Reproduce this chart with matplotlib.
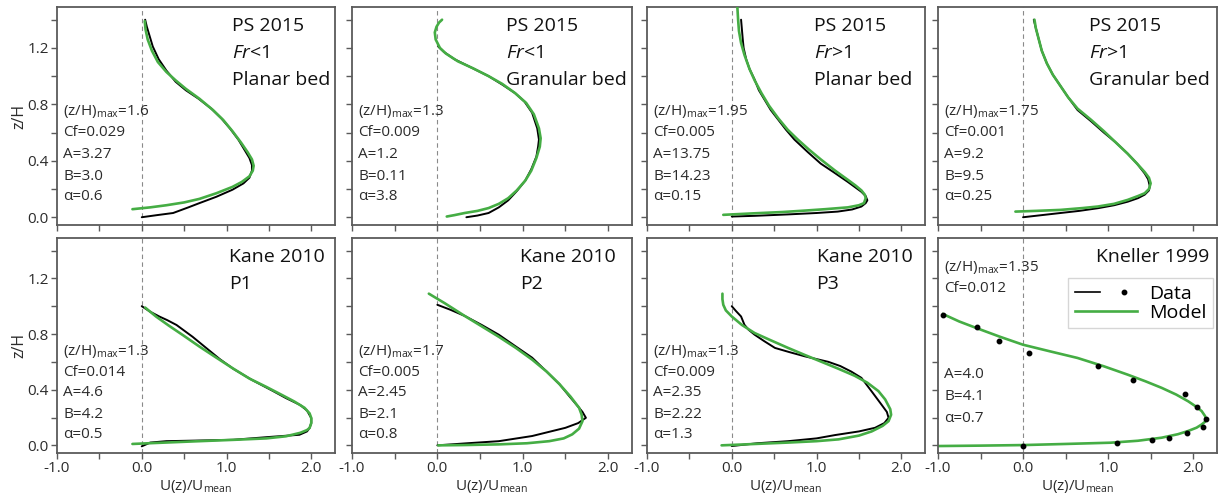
import matplotlib
matplotlib.use("Agg")
import matplotlib.pyplot as plt
from matplotlib.lines import Line2D
from matplotlib.legend_handler import HandlerTuple

plt.rcParams["font.family"] = ["Open Sans", "DejaVu Sans"]
plt.rcParams["mathtext.fontset"] = "custom"
plt.rcParams["mathtext.rm"] = "Open Sans"
plt.rcParams["mathtext.it"] = "Open Sans:italic"

# ---------------- velocity profiles: U(z)/Umean vs z/H ----------------
# PS 2015, Fr<1, planar bed
p1_data_u = [0.0, 0.18, 0.37, 0.55, 0.68, 0.88, 1.07, 1.20, 1.27, 1.30, 1.30, 1.27, 1.22, 1.14, 1.04, 0.94, 0.82, 0.67, 0.52, 0.40, 0.29, 0.20, 0.13, 0.09, 0.06, 0.04]
p1_data_z = [0.0, 0.015, 0.03, 0.07, 0.10, 0.145, 0.195, 0.24, 0.28, 0.33, 0.37, 0.42, 0.47, 0.55, 0.63, 0.70, 0.77, 0.84, 0.90, 0.96, 1.04, 1.12, 1.21, 1.29, 1.35, 1.40]
p1_model_u = [-0.11, 0.10, 0.29, 0.50, 0.68, 0.88, 1.07, 1.18, 1.27, 1.31, 1.32, 1.30, 1.25, 1.17, 1.07, 0.96, 0.84, 0.68, 0.52, 0.40, 0.29, 0.19, 0.12, 0.07, 0.045, 0.035]
p1_model_z = [0.057, 0.07, 0.085, 0.105, 0.13, 0.17, 0.215, 0.25, 0.29, 0.33, 0.365, 0.41, 0.46, 0.53, 0.61, 0.69, 0.76, 0.84, 0.91, 0.97, 1.03, 1.10, 1.18, 1.26, 1.33, 1.39]

# PS 2015, Fr<1, granular bed
p2_data_u = [0.34, 0.47, 0.60, 0.72, 0.83, 0.93, 1.03, 1.10, 1.16, 1.18, 1.19, 1.17, 1.11, 1.02, 0.91, 0.76, 0.60, 0.40, 0.20, 0.08, 0.01]
p2_data_z = [0.0, 0.012, 0.03, 0.07, 0.12, 0.185, 0.26, 0.34, 0.43, 0.50, 0.55, 0.63, 0.74, 0.82, 0.88, 0.94, 1.0, 1.06, 1.12, 1.17, 1.21]
p2_model_u = [0.11, 0.20, 0.32, 0.47, 0.60, 0.72, 0.83, 0.93, 1.03, 1.10, 1.16, 1.20, 1.21, 1.19, 1.13, 1.04, 0.91, 0.76, 0.60, 0.42, 0.24, 0.10, 0.03, -0.02, -0.03, -0.01, 0.02, 0.055]
p2_model_z = [0.005, 0.015, 0.03, 0.045, 0.065, 0.095, 0.135, 0.19, 0.26, 0.33, 0.42, 0.50, 0.56, 0.63, 0.73, 0.81, 0.88, 0.945, 1.0, 1.055, 1.105, 1.16, 1.20, 1.26, 1.31, 1.35, 1.38, 1.40]

# PS 2015, Fr>1, planar bed
p3_data_u = [0.0, 0.27, 0.66, 1.00, 1.25, 1.42, 1.53, 1.58, 1.60, 1.58, 1.53, 1.45, 1.37, 1.20, 1.05, 0.90, 0.74, 0.64, 0.55, 0.46, 0.39, 0.32, 0.27, 0.21, 0.17, 0.14, 0.13, 0.12, 0.11]
p3_data_z = [0.005, 0.01, 0.02, 0.03, 0.04, 0.055, 0.076, 0.10, 0.12, 0.15, 0.18, 0.215, 0.25, 0.32, 0.38, 0.46, 0.55, 0.62, 0.69, 0.76, 0.83, 0.90, 0.975, 1.05, 1.12, 1.20, 1.26, 1.33, 1.40]
p3_model_u = [-0.10, 0.27, 0.60, 0.86, 1.10, 1.37, 1.50, 1.56, 1.58, 1.57, 1.53, 1.46, 1.37, 1.22, 1.05, 0.91, 0.78, 0.66, 0.55, 0.44, 0.35, 0.27, 0.21, 0.15, 0.11, 0.085, 0.075, 0.065]
p3_model_z = [0.017, 0.028, 0.037, 0.047, 0.057, 0.07, 0.085, 0.10, 0.135, 0.16, 0.19, 0.225, 0.265, 0.33, 0.41, 0.48, 0.55, 0.62, 0.70, 0.79, 0.88, 0.97, 1.05, 1.15, 1.235, 1.32, 1.40, 1.50]

# PS 2015, Fr>1, granular bed
p4_data_u = [0.0, 0.22, 0.44, 0.66, 0.88, 1.07, 1.23, 1.35, 1.43, 1.48, 1.49, 1.47, 1.43, 1.34, 1.23, 1.09, 0.95, 0.80, 0.64, 0.53, 0.44, 0.35, 0.28, 0.22, 0.185, 0.146, 0.126]
p4_data_z = [0.0, 0.015, 0.03, 0.045, 0.064, 0.085, 0.11, 0.135, 0.16, 0.19, 0.22, 0.27, 0.31, 0.38, 0.45, 0.53, 0.60, 0.68, 0.76, 0.85, 0.93, 1.01, 1.09, 1.18, 1.26, 1.35, 1.40]
p4_model_u = [-0.09, 0.15, 0.44, 0.70, 0.88, 1.07, 1.23, 1.35, 1.43, 1.48, 1.50, 1.48, 1.43, 1.34, 1.23, 1.09, 0.95, 0.80, 0.64, 0.53, 0.44, 0.35, 0.28, 0.22, 0.185, 0.15, 0.134]
p4_model_z = [0.04, 0.045, 0.052, 0.065, 0.076, 0.095, 0.123, 0.15, 0.17, 0.20, 0.24, 0.28, 0.32, 0.38, 0.45, 0.53, 0.61, 0.69, 0.77, 0.85, 0.93, 1.01, 1.09, 1.18, 1.26, 1.34, 1.40]

# Kane 2010, P1
p5_data_u = [0.0, 0.10, 0.29, 0.70, 1.08, 1.50, 1.86, 1.95, 1.98, 2.0, 2.0, 1.95, 1.87, 1.70, 1.55, 1.30, 1.08, 0.92, 0.76, 0.60, 0.41, 0.30, 0.21, 0.10, 0.0]
p5_data_z = [-0.007, 0.02, 0.03, 0.035, 0.04, 0.06, 0.076, 0.10, 0.125, 0.16, 0.196, 0.25, 0.29, 0.34, 0.39, 0.47, 0.55, 0.62, 0.70, 0.78, 0.865, 0.90, 0.925, 0.96, 1.0]
p5_model_u = [-0.11, 0.20, 0.68, 1.10, 1.47, 1.70, 1.87, 1.95, 1.98, 2.00, 2.00, 1.98, 1.92, 1.80, 1.66, 1.47, 1.27, 1.07, 0.88, 0.68, 0.49, 0.32, 0.17, 0.04]
p5_model_z = [0.01, 0.018, 0.03, 0.04, 0.05, 0.065, 0.09, 0.11, 0.125, 0.16, 0.196, 0.23, 0.27, 0.315, 0.36, 0.42, 0.48, 0.555, 0.63, 0.71, 0.79, 0.86, 0.925, 0.99]

# Kane 2010, P2
p6_data_u = [0.0, 0.35, 0.72, 1.11, 1.50, 1.65, 1.74, 1.70, 1.66, 1.55, 1.43, 1.28, 1.11, 0.92, 0.72, 0.52, 0.32, 0.15, 0.0]
p6_data_z = [0.0, 0.015, 0.03, 0.067, 0.126, 0.16, 0.198, 0.24, 0.27, 0.35, 0.44, 0.53, 0.63, 0.71, 0.795, 0.865, 0.93, 0.975, 1.01]
p6_model_u = [0.01, 0.30, 0.72, 1.05, 1.31, 1.48, 1.58, 1.66, 1.70, 1.69, 1.66, 1.56, 1.43, 1.28, 1.11, 0.92, 0.72, 0.52, 0.32, 0.09, -0.10]
p6_model_z = [0.0, 0.002, 0.007, 0.015, 0.03, 0.05, 0.079, 0.12, 0.174, 0.22, 0.27, 0.35, 0.44, 0.53, 0.616, 0.70, 0.78, 0.855, 0.93, 1.02, 1.09]

# Kane 2010, P3
p7_data_u = [0.0, 0.30, 0.665, 1.00, 1.22, 1.50, 1.69, 1.80, 1.85, 1.83, 1.77, 1.66, 1.53, 1.41, 1.28, 1.14, 1.00, 0.86, 0.68, 0.51, 0.38, 0.27, 0.20, 0.15, 0.11, 0.05, 0.0]
p7_data_z = [-0.005, 0.015, 0.03, 0.05, 0.074, 0.10, 0.126, 0.16, 0.198, 0.24, 0.29, 0.38, 0.485, 0.53, 0.57, 0.60, 0.62, 0.64, 0.67, 0.70, 0.75, 0.795, 0.83, 0.866, 0.926, 0.965, 1.0]
p7_model_u = [-0.12, 0.20, 0.665, 1.00, 1.26, 1.50, 1.65, 1.78, 1.85, 1.88, 1.87, 1.81, 1.73, 1.60, 1.45, 1.26, 1.06, 0.86, 0.665, 0.46, 0.27, 0.12, 0.0, -0.07, -0.10, -0.11, -0.11]
p7_model_z = [0.0, 0.008, 0.02, 0.03, 0.043, 0.07, 0.10, 0.14, 0.174, 0.22, 0.26, 0.33, 0.39, 0.45, 0.50, 0.55, 0.60, 0.65, 0.70, 0.755, 0.807, 0.865, 0.926, 0.97, 1.01, 1.05, 1.09]

# Kneller 1999 (point measurements)
p8_data_u = [-0.94, -0.544, -0.288, 0.067, 0.876, 1.29, 1.90, 2.05, 2.15, 2.11, 1.93, 1.71, 1.51, 1.10, 0.0]
p8_data_z = [0.938, 0.847, 0.752, 0.663, 0.568, 0.468, 0.37, 0.277, 0.186, 0.131, 0.091, 0.055, 0.036, 0.014, -0.005]
p8_model_u = [-1.0, -0.5, 0.0, 0.5, 1.03, 1.35, 1.63, 1.82, 1.94, 2.04, 2.10, 2.14, 2.15, 2.14, 2.10, 2.03, 1.94, 1.80, 1.63, 1.44, 1.23, 0.95, 0.64, 0.32, 0.0, -0.27, -0.544, -0.75, -0.94]
p8_model_z = [-0.005, -0.002, 0.002, 0.01, 0.019, 0.033, 0.055, 0.08, 0.103, 0.127, 0.15, 0.17, 0.186, 0.21, 0.246, 0.28, 0.317, 0.365, 0.413, 0.46, 0.508, 0.568, 0.628, 0.675, 0.723, 0.78, 0.842, 0.89, 0.943]

titles = [
    ["PS 2015", r"$\mathit{Fr}$<1", "Planar bed"],
    ["PS 2015", r"$\mathit{Fr}$<1", "Granular bed"],
    ["PS 2015", r"$\mathit{Fr}$>1", "Planar bed"],
    ["PS 2015", r"$\mathit{Fr}$>1", "Granular bed"],
    ["Kane 2010", "P1"],
    ["Kane 2010", "P2"],
    ["Kane 2010", "P3"],
    ["Kneller 1999"],
]
zh_max = ["1.6", "1.3", "1.95", "1.75", "1.3", "1.7", "1.3", "1.35"]
cf = ["0.029", "0.009", "0.005", "0.001", "0.014", "0.005", "0.009", "0.012"]
a_par = ["3.27", "1.2", "13.75", "9.2", "4.6", "2.45", "2.35", "4.0"]
b_par = ["3.0", "0.11", "14.23", "9.5", "4.2", "2.1", "2.22", "4.1"]
alpha_par = ["0.6", "3.8", "0.15", "0.25", "0.5", "0.8", "1.3", "0.7"]

data_u = [p1_data_u, p2_data_u, p3_data_u, p4_data_u, p5_data_u, p6_data_u, p7_data_u, p8_data_u]
data_z = [p1_data_z, p2_data_z, p3_data_z, p4_data_z, p5_data_z, p6_data_z, p7_data_z, p8_data_z]
model_u = [p1_model_u, p2_model_u, p3_model_u, p4_model_u, p5_model_u, p6_model_u, p7_model_u, p8_model_u]
model_z = [p1_model_z, p2_model_z, p3_model_z, p4_model_z, p5_model_z, p6_model_z, p7_model_z, p8_model_z]

GREEN = "#45ad44"
SPINE = "#5a5a5a"
TXT = "#2b2b2b"

W, H = 1218, 499
fig = plt.figure(figsize=(W / 100, H / 100), dpi=100)

col_left = [57, 352, 647, 938]
col_w = [278, 280, 278, 279]
row_top = [7, 238]
row_h = [218, 215]

title_x = [0.63, 0.55, 0.60, 0.54, 0.62, 0.60, 0.61, 0.565]

for i in range(8):
    r, c = divmod(i, 4)
    ax = fig.add_axes([col_left[c] / W, 1 - (row_top[r] + row_h[r]) / H,
                       col_w[c] / W, row_h[r] / H])
    ax.set_xlim(-1.0, 2.28)
    ax.set_ylim(-0.055, 1.49)
    ax.axvline(0, color="#8a8a8a", lw=0.8, ls=(0, (4, 3)), zorder=1)

    if i < 7:
        ax.plot(data_u[i], data_z[i], color="black", lw=1.4, zorder=2,
                solid_capstyle="round", solid_joinstyle="round")
        ax.plot(model_u[i], model_z[i], color=GREEN, lw=1.9, zorder=3,
                solid_capstyle="round", solid_joinstyle="round")
    else:
        ax.plot(model_u[i], model_z[i], color=GREEN, lw=1.9, zorder=2,
                solid_joinstyle="round")
        ax.plot(data_u[i], data_z[i], ls="none", marker="o", ms=3.2,
                color="black", zorder=3)

    ax.set_xticks([-1.0, -0.5, 0.0, 0.5, 1.0, 1.5, 2.0])
    ax.set_yticks([0.0, 0.2, 0.4, 0.6, 0.8, 1.0, 1.2, 1.4])
    if r == 1:
        ax.set_xticklabels(["-1.0", "", "0.0", "", "1.0", "", "2.0"])
        ax.set_xlabel(r"U(z)/U$_\mathrm{mean}$", fontsize=11, color=TXT, labelpad=1)
    else:
        ax.set_xticklabels([])
    if c == 0:
        ax.set_yticklabels(["0.0", "", "0.4", "", "0.8", "", "1.2", ""])
        ax.set_ylabel("z/H", fontsize=11.5, color=TXT, labelpad=0)
    else:
        ax.set_yticklabels([])
    ax.tick_params(direction="out", length=4, width=1.0, color=SPINE,
                   labelsize=11, labelcolor=TXT, pad=2)
    for s in ax.spines.values():
        s.set_color(SPINE)
        s.set_linewidth(1.3)

    # study label
    for k, line in enumerate(titles[i]):
        ax.text(title_x[i], 0.912 - k * 0.124, line, transform=ax.transAxes,
                fontsize=14, color="#111111", ha="left", va="center")

    # fitted parameters
    px = 0.022
    lines = [r"(z/H)$_\mathrm{max}$=" + zh_max[i], "Cf=" + cf[i],
             "A=" + a_par[i], "B=" + b_par[i], "\u03b1=" + alpha_par[i]]
    if r == 0:
        ys = [1 - (112 - 7) / 218, 1 - (132 - 7) / 218, 1 - (155 - 7) / 218,
              1 - (177 - 7) / 218, 1 - (197 - 7) / 218]
    elif i < 7:
        ys = [1 - (352 - 238) / 215, 1 - (372 - 238) / 215, 1 - (393 - 238) / 215,
              1 - (414 - 238) / 215, 1 - (435 - 238) / 215]
    else:
        ys = [1 - (268 - 238) / 215, 1 - (288 - 238) / 215, 1 - (375 - 238) / 215,
              1 - (397 - 238) / 215, 1 - (418 - 238) / 215]
    for line, yy in zip(lines, ys):
        ax.text(px, yy, line, transform=ax.transAxes, fontsize=11,
                color=TXT, ha="left", va="center")

    if i == 7:
        h_data = (Line2D([], [], color="black", lw=1.2),
                  Line2D([], [], ls="none", marker="o", ms=3.2, color="black"))
        h_model = Line2D([], [], color=GREEN, lw=1.9)
        leg = ax.legend([h_data, h_model], ["Data", "Model"],
                        handler_map={tuple: HandlerTuple(ndivide=None, pad=0.6)},
                        loc="upper right", bbox_to_anchor=(0.985, 0.815),
                        fontsize=14, frameon=True, fancybox=False,
                        handlelength=3.2, handletextpad=0.6, borderpad=0.35,
                        labelspacing=0.05, borderaxespad=0)
        leg.get_frame().set_edgecolor("#cccccc")
        leg.get_frame().set_linewidth(1.0)

fig.savefig("out.png", dpi=100)
